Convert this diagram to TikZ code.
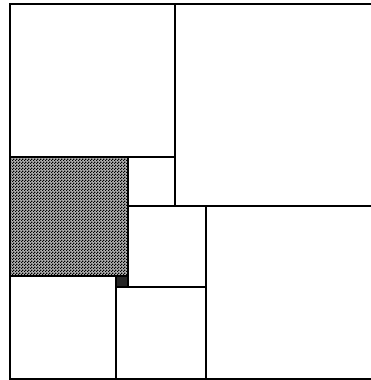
\documentclass[tikz,border=0pt]{standalone}
\usetikzlibrary{patterns}
\pgfdeclarepatternformonly{finechecker}{\pgfpointorigin}{\pgfpoint{3pt}{3pt}}{\pgfpoint{3pt}{3pt}}{%
  \pgfpathrectangle{\pgfpointorigin}{\pgfpoint{1.5pt}{1.5pt}}%
  \pgfpathrectangle{\pgfpoint{1.5pt}{1.5pt}}{\pgfpoint{1.5pt}{1.5pt}}%
  \pgfusepath{fill}}
\begin{document}
\begin{tikzpicture}[x=1pt,y=-1pt,
  edge/.style={line width=2.2pt,black},
  shade/.style={pattern=finechecker,pattern color=black}]
\useasboundingbox (0,0) rectangle (371,380);
% shaded square
\fill[gray!60] (11,157) rectangle (127,276);
\fill[shade] (11,157) rectangle (127,276);
% tiny black square
\fill[black!85] (116,276) rectangle (128,287);
% outer lines
\coordinate (TL) at (10,4);
\coordinate (TR) at (371,4);
\coordinate (BL) at (10,379);
\coordinate (BR) at (371,379);
\draw[edge] (TR) -- (TL) -- (BL) -- (BR);
% inner lines
\draw[edge] (175,4) -- (175,206);
\draw[edge] (10,157) -- (175,157);
\draw[edge] (128,157) -- (128,287);
\draw[edge] (128,206) -- (371,206);
\draw[edge] (206,206) -- (206,379);
\draw[edge] (10,276) -- (128,276);
\draw[edge] (116,276) -- (116,379);
\draw[edge] (116,287) -- (206,287);
\end{tikzpicture}
\end{document}
